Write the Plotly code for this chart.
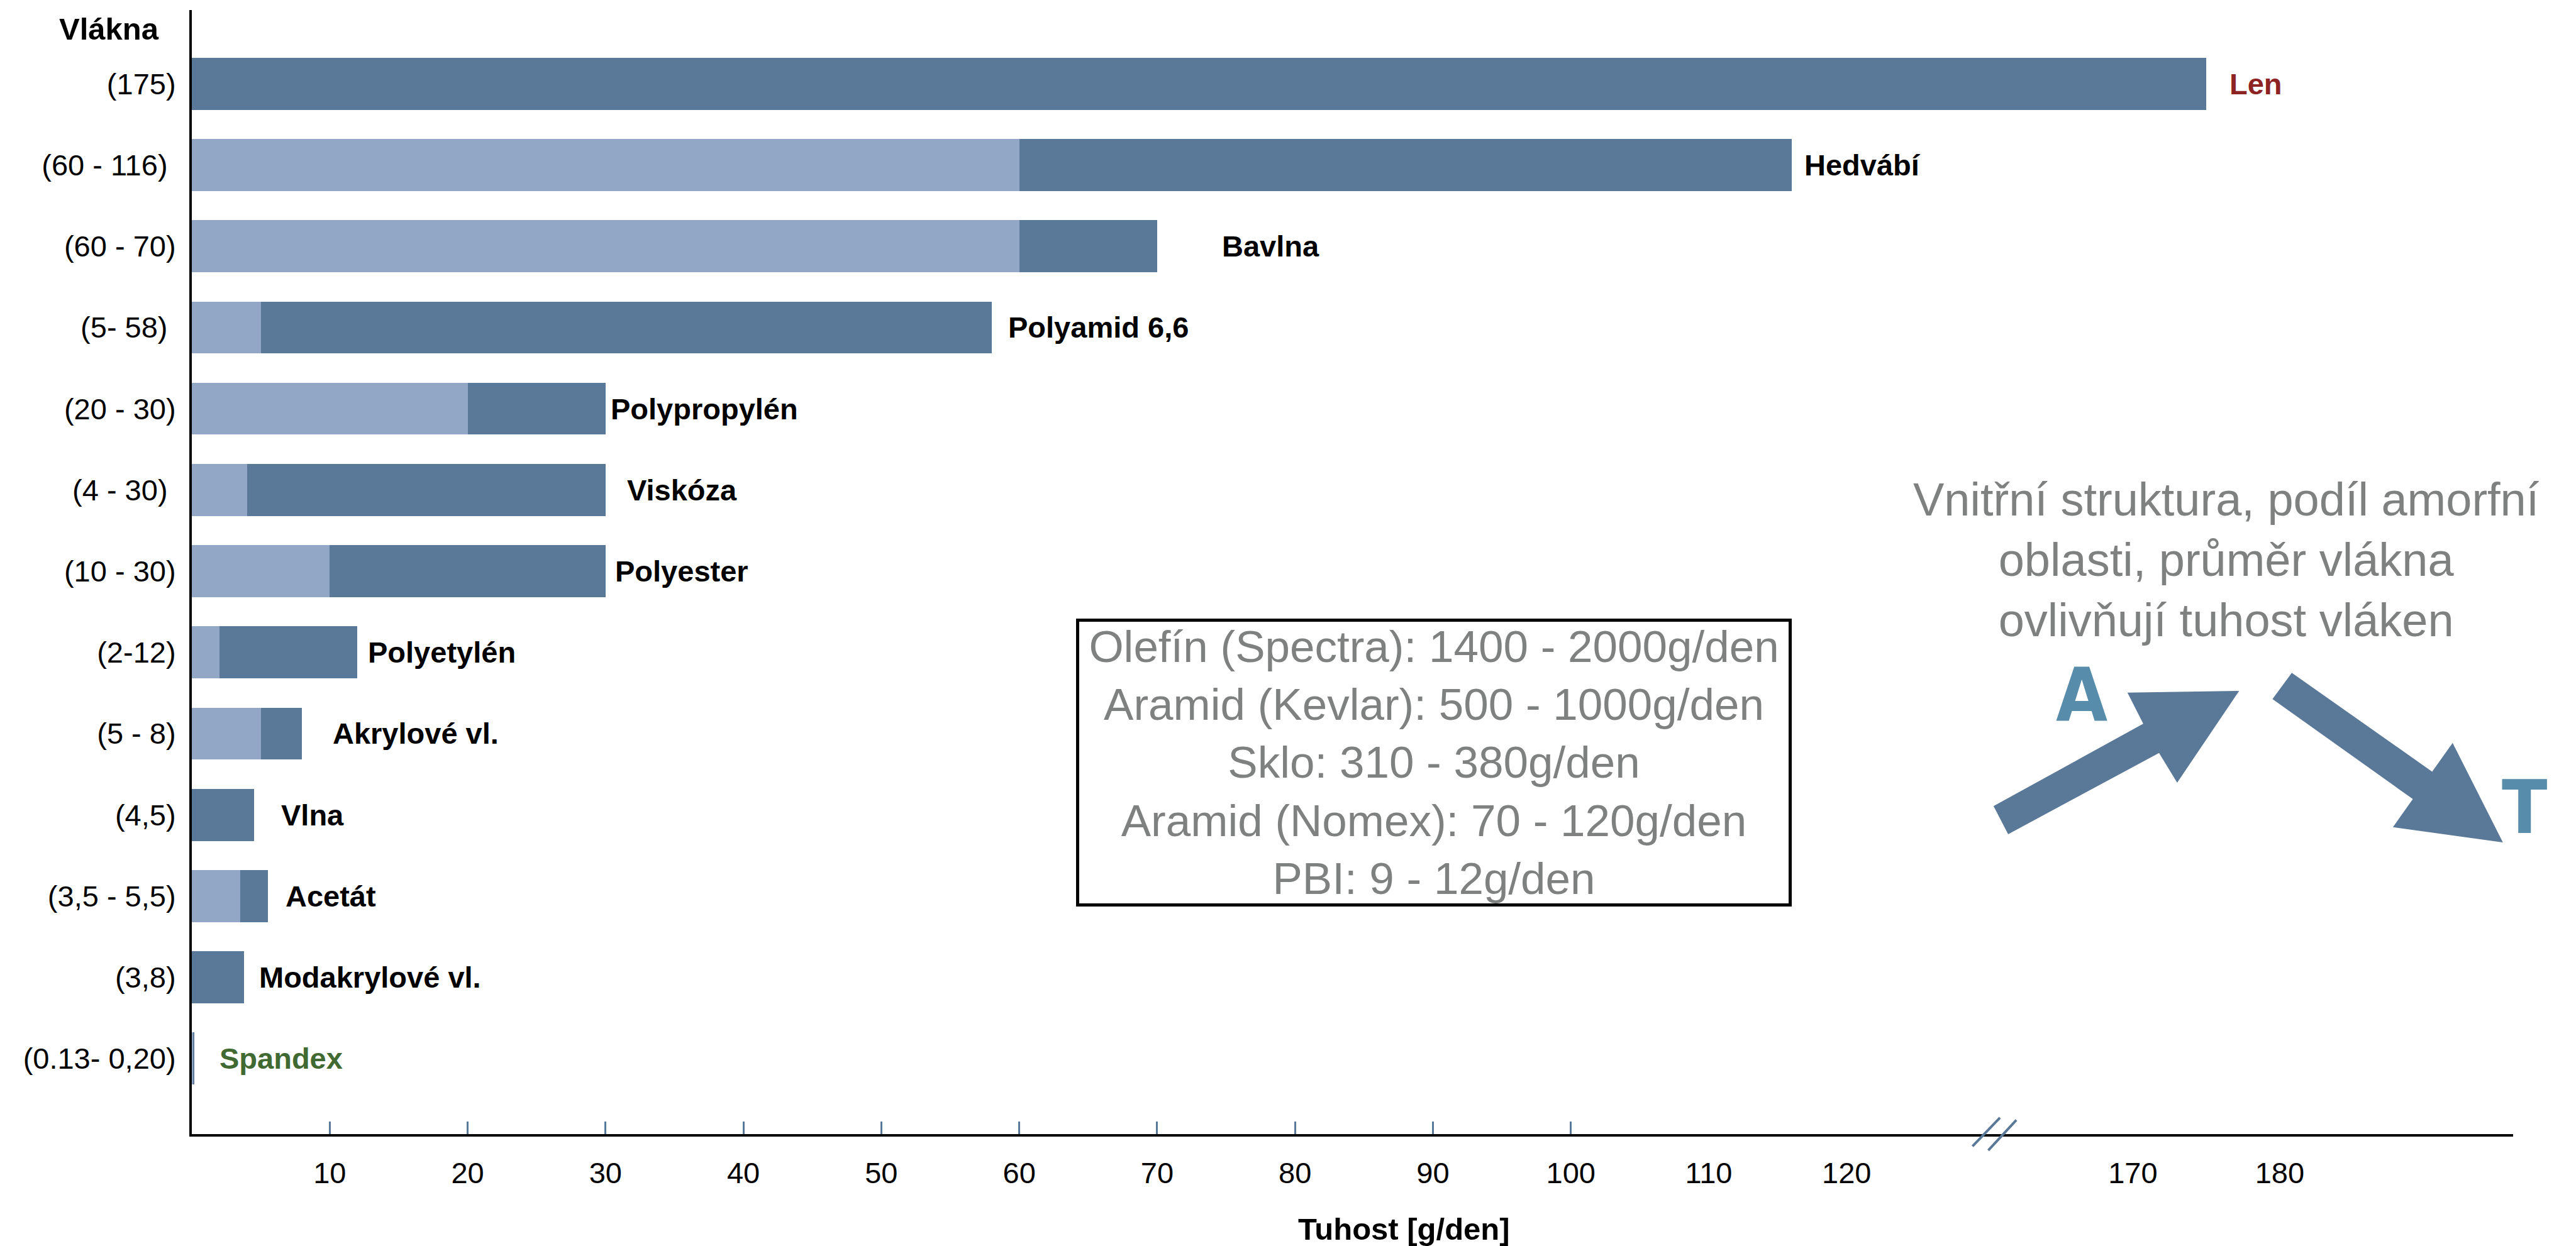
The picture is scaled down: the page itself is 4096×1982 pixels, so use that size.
import plotly.graph_objects as go

# ---------------------------------------------------------------- data
fibers = ["Len", "Hedvábí", "Bavlna", "Polyamid 6,6", "Polypropylén", "Viskóza",
          "Polyester", "Polyetylén", "Akrylové vl.", "Vlna", "Acetát",
          "Modakrylové vl.", "Spandex"]
range_labels = ["(175)", "(60 - 116)\u00a0", "(60 - 70)", "(5- 58)\u00a0", "(20 - 30)",
                "(4 - 30)\u00a0", "(10 - 30)", "(2-12)", "(5 - 8)", "(4,5)",
                "(3,5 - 5,5)", "(3,8)", "(0.13- 0,20)"]
tenacity_low = [None, 60, 60, 5, 20, 4, 10, 2, 5, None, 3.5, None, 0.13]
tenacity_high = [175, 116, 70, 58, 30, 30, 30, 12, 8, 4.5, 5.5, 3.8, 0.20]

near_tick_vals = [10, 20, 30, 40, 50, 60, 70, 80, 90, 100, 110, 120]
marked_tick_vals = [10, 20, 30, 40, 50, 60, 70, 80, 90, 100]
far_tick_vals = [170, 180]

other_fibers = ["Olefín (Spectra): 1400 - 2000g/den",
                "Aramid (Kevlar): 500 - 1000g/den",
                "Sklo: 310 - 380g/den",
                "Aramid (Nomex): 70 - 120g/den",
                "PBI: 9 - 12g/den"]
note_text = ["Vnitřní struktura, podíl amorfní",
             "oblasti, průměr vlákna",
             "ovlivňují tuhost vláken"]

# ---------------------------------------------------------------- style
W_PX, H_PX = 4096, 1982
L, R, T, B = 305, 3996, 16, 1804          # plot area in pixels
BREAK_PX = 3172
SPLIT = (BREAK_PX - L) / (R - L)
NEAR_RANGE = [0, 130.75]
FAR_RANGE = [160.6, 195.9]

DARK = "#5A7898"
LIGHT = "#92A6C5"
GRAY = "#7F8080"
LETTER = "#588CAB"
FONT = "Helvetica Neue, Liberation Sans, Arial, sans-serif"
NARROW = "Liberation Sans Narrow, DejaVu Sans Condensed, Liberation Sans, sans-serif"

label_colors = {"Len": "#8E2323", "Spandex": "#416932"}
label_gap = {"Len": 35, "Hedvábí": 18, "Bavlna": 101, "Polyamid 6,6": 24,
             "Polypropylén": 6, "Viskóza": 32, "Polyester": 13, "Polyetylén": 15,
             "Akrylové vl.": 47, "Vlna": 41, "Acetát": 26, "Modakrylové vl.": 22,
             "Spandex": 38}


def px_x(px):
    return (px - L) / (R - L)


def px_y(py):
    return (B - py) / (B - T)


def ref_pt(x, y):
    # drawing units (full-size sketch) scaled to this canvas
    s = W_PX / 4405
    return px_x(x * s), px_y(y * s)


def path(points):
    pts = [ref_pt(x, y) for x, y in points]
    return "M " + " L ".join(f"{x:.5f},{y:.5f}" for x, y in pts) + " Z"


light_x = [lo if lo is not None else None for lo in tenacity_low]
dark_base = [lo if lo is not None else 0 for lo in tenacity_low]
dark_x = [hi - b for hi, b in zip(tenacity_high, dark_base)]

fig = go.Figure()
for xa in ("x", "x2"):
    fig.add_trace(go.Bar(y=fibers, x=light_x, base=0, orientation="h",
                         marker=dict(color=LIGHT, line=dict(width=0)),
                         width=0.64, xaxis=xa, yaxis="y", showlegend=False,
                         hoverinfo="skip"))
    fig.add_trace(go.Bar(y=fibers, x=dark_x, base=dark_base, orientation="h",
                         marker=dict(color=DARK, line=dict(width=0)),
                         width=0.64, xaxis=xa, yaxis="y", showlegend=False,
                         hoverinfo="skip"))

annotations = []
for name, hi in zip(fibers, tenacity_high):
    annotations.append(dict(
        x=hi, y=name, xref="x2" if hi > NEAR_RANGE[1] else "x", yref="y",
        text=name, showarrow=False, xanchor="left", yanchor="middle",
        xshift=label_gap[name],
        font=dict(family=FONT, size=47, color=label_colors.get(name, "#000000"),
                  weight="bold")))

# axis titles
annotations.append(dict(x=px_x(173), y=px_y(46), xref="paper", yref="paper",
                        text="Vlákna", showarrow=False, xanchor="center", yanchor="middle",
                        font=dict(family=FONT, size=49, color="#000000", weight="bold")))
annotations.append(dict(x=px_x(2232), y=px_y(1955), xref="paper", yref="paper",
                        text="Tuhost [g/den]", showarrow=False, xanchor="center",
                        yanchor="middle",
                        font=dict(family=FONT, size=49, color="#000000", weight="bold")))

# box with the high-tenacity fibres
annotations.append(dict(x=px_x(2280), y=px_y(1213), xref="paper", yref="paper",
                        text="<br>".join(other_fibers), showarrow=False,
                        xanchor="center", yanchor="middle", align="center",
                        width=1128, height=448, borderpad=0,
                        bordercolor="#000000", borderwidth=5, bgcolor="#FFFFFF",
                        font=dict(family=FONT, size=71, color=GRAY)))

# note on the right
annotations.append(dict(x=px_x(3540), y=px_y(891), xref="paper", yref="paper",
                        text="<br>".join(note_text), showarrow=False,
                        xanchor="center", yanchor="middle", align="center",
                        font=dict(family=FONT, size=74, color=GRAY)))
annotations.append(dict(x=px_x(3310), y=px_y(1106), xref="paper", yref="paper",
                        text="A", showarrow=False, xanchor="center", yanchor="middle",
                        font=dict(family=NARROW, size=118, color=LETTER, weight="bold")))
annotations.append(dict(x=px_x(4014), y=px_y(1284), xref="paper", yref="paper",
                        text="T", showarrow=False, xanchor="center", yanchor="middle",
                        font=dict(family=NARROW, size=118, color=LETTER, weight="bold")))

shapes = [
    # arrow rising to the right
    dict(type="path", xref="paper", yref="paper", layer="above",
         path=path([(3409, 1379), (3665, 1238), (3638, 1185), (3829, 1182),
                    (3723, 1339), (3692, 1288), (3434, 1427)]),
         fillcolor=DARK, line=dict(width=0)),
    # arrow falling to the right
    dict(type="path", xref="paper", yref="paper", layer="above",
         path=path([(3919, 1151), (4159, 1320), (4194, 1271), (4280, 1441),
                    (4092, 1415), (4126, 1367), (3886, 1196)]),
         fillcolor=DARK, line=dict(width=0)),
]
# axis break marks
for (x0, y0, x1, y1) in [(3373, 1961, 3420, 1912), (3400, 1968, 3448, 1916)]:
    a0, b0 = ref_pt(x0, y0)
    a1, b1 = ref_pt(x1, y1)
    shapes.append(dict(type="line", xref="paper", yref="paper", layer="above",
                       x0=a0, y0=b0, x1=a1, y1=b1, line=dict(color=DARK, width=4)))

axis_common = dict(showline=True, linecolor="#000000", linewidth=4, showgrid=False,
                   zeroline=False, ticks="", anchor="y",
                   tickfont=dict(family=FONT, size=47, color="#000000"),
                   ticklabelstandoff=18)

fig.update_layout(
    width=W_PX, height=H_PX,
    margin=dict(l=L, r=W_PX - R, t=T, b=H_PX - B, autoexpand=False),
    paper_bgcolor="#FFFFFF", plot_bgcolor="#FFFFFF",
    barmode="overlay", bargap=0,
    xaxis=dict(domain=[0, SPLIT], range=NEAR_RANGE, tickmode="array",
               tickvals=near_tick_vals, ticktext=[str(v) for v in near_tick_vals],
               minor=dict(tickmode="array", tickvals=marked_tick_vals, ticks="inside",
                          ticklen=20, tickwidth=3, tickcolor=DARK, showgrid=False),
               **axis_common),
    xaxis2=dict(domain=[SPLIT, 1], range=FAR_RANGE, tickmode="array",
                tickvals=far_tick_vals, ticktext=[str(v) for v in far_tick_vals],
                **axis_common),
    yaxis=dict(type="category", categoryorder="array", categoryarray=fibers,
               range=[12.93, -0.907], tickmode="array", tickvals=fibers,
               ticktext=range_labels, showline=True, linecolor="#000000", linewidth=4,
               showgrid=False, zeroline=False, ticks="", ticklabelstandoff=12,
               tickfont=dict(family=FONT, size=47, color="#000000")),
    annotations=annotations,
    shapes=shapes,
)

fig.write_html("out.html")
